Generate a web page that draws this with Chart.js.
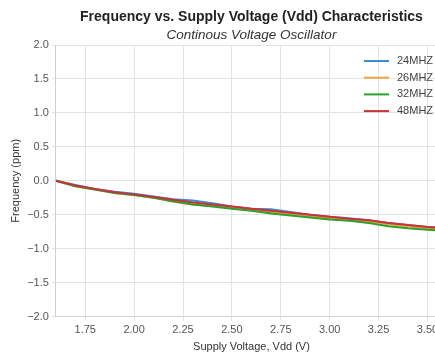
<!DOCTYPE html>
<html lang="en">
<head>
    <meta charset="UTF-8">
    <title>Frequency vs. Supply Voltage</title>
    <script src="https://cdn.jsdelivr.net/npm/chart.js@4/dist/chart.umd.min.js"></script>
    <style>
        html, body { margin: 0; padding: 0; background: #fff; overflow: hidden; }
    </style>
</head>
<body>
<canvas id="freqChart" width="490" height="354"></canvas>

<script>
    // supply voltage (V)
    let voltage = [1.6, 1.7, 1.8, 1.9, 2.0, 2.1, 2.2, 2.3, 2.4, 2.5, 2.6, 2.7, 2.8, 2.9, 3.0, 3.1, 3.2, 3.3, 3.4, 3.5, 3.6];
    // frequency deviation (ppm)
    let f24 = [0, -0.06, -0.12, -0.16, -0.19, -0.23, -0.27, -0.29, -0.33, -0.38, -0.41, -0.42, -0.46, -0.50, -0.53, -0.55, -0.58, -0.62, -0.65, -0.68, -0.70];
    let f26 = [0, -0.08, -0.13, -0.18, -0.21, -0.25, -0.31, -0.35, -0.37, -0.40, -0.43, -0.46, -0.49, -0.52, -0.55, -0.57, -0.60, -0.64, -0.67, -0.70, -0.72];
    let f32 = [0, -0.08, -0.13, -0.18, -0.21, -0.25, -0.30, -0.35, -0.38, -0.41, -0.44, -0.48, -0.51, -0.54, -0.57, -0.59, -0.62, -0.67, -0.70, -0.72, -0.74];
    let f48 = [0, -0.07, -0.12, -0.17, -0.20, -0.24, -0.28, -0.32, -0.35, -0.38, -0.41, -0.44, -0.47, -0.50, -0.53, -0.56, -0.58, -0.62, -0.65, -0.68, -0.70];
    let seriesNames = ["24MHZ", "26MHZ", "32MHZ", "48MHZ"];
    let xTicks = [1.75, 2.0, 2.25, 2.5, 2.75, 3.0, 3.25, 3.5];

    let colors = ["#3b8ed0", "#f2a33a", "#2ca02c", "#c8323a"];
    let font = "'Liberation Sans', Arial, sans-serif";

    function points(values) {
        let pts = [];
        for (let i = 0; i < voltage.length; i++) {
            pts.push({x: voltage[i], y: values[i]});
        }
        return pts;
    }

    // legend drawn inside the plot, upper right
    let innerLegend = {
        id: "innerLegend",
        afterDatasetsDraw(chart) {
            let ctx = chart.ctx;
            let area = chart.chartArea;
            let x0 = area.right - 83;
            let y0 = area.top + 16;
            ctx.save();
            ctx.font = "11px " + font;
            ctx.textBaseline = "middle";
            chart.data.datasets.forEach(function (ds, i) {
                let y = y0 + i * 16.7;
                ctx.strokeStyle = ds.borderColor;
                ctx.lineWidth = 2;
                ctx.beginPath();
                ctx.moveTo(x0, y);
                ctx.lineTo(x0 + 25, y);
                ctx.stroke();
                ctx.fillStyle = "#444";
                ctx.fillText(ds.label, x0 + 33, y);
            });
            ctx.restore();
        }
    };

    let datasets = [f24, f26, f32, f48].map(function (vals, i) {
        return {
            label: seriesNames[i],
            data: points(vals),
            borderColor: colors[i],
            backgroundColor: colors[i],
            borderWidth: 2,
            pointRadius: 0,
            tension: 0,
            order: 3 - i   // later series drawn on top
        };
    });

    new Chart("freqChart", {
        type: "line",
        data: {datasets: datasets},
        plugins: [innerLegend],
        options: {
            responsive: false,
            animation: false,
            layout: {padding: {left: 9, right: 43, top: 4, bottom: 0}},
            plugins: {
                legend: {display: false},
                tooltip: {enabled: false},
                title: {
                    display: true,
                    fullSize: false,
                    text: "Frequency vs. Supply Voltage (Vdd) Characteristics",
                    color: "#222",
                    font: {family: font, size: 14, weight: "bold"},
                    padding: {top: 5, bottom: 1}
                },
                subtitle: {
                    display: true,
                    fullSize: false,
                    text: "Continous Voltage Oscillator",
                    color: "#333",
                    font: {family: font, size: 13.5, style: "italic"},
                    padding: {top: 0, bottom: 2}
                }
            },
            scales: {
                x: {
                    type: "linear",
                    min: 1.6,
                    max: 3.6,
                    afterBuildTicks: function (axis) {
                        axis.ticks = xTicks.map(function (v) { return {value: v}; });
                    },
                    ticks: {
                        color: "#555",
                        font: {family: font, size: 11},
                        padding: 3,
                        callback: function (v) { return Number(v).toFixed(2); }
                    },
                    grid: {color: "#e3e3e3", drawTicks: true, tickLength: 4},
                    border: {color: "#d0d0d0"},
                    title: {
                        display: true,
                        text: "Supply Voltage, Vdd (V)",
                        color: "#333",
                        font: {family: font, size: 11},
                        padding: {top: 1, bottom: 0}
                    }
                },
                y: {
                    min: -2,
                    max: 2,
                    ticks: {
                        stepSize: 0.5,
                        color: "#555",
                        font: {family: font, size: 11},
                        padding: 3,
                        callback: function (v) { return Number(v).toFixed(1).replace("-", "\u2212"); }
                    },
                    grid: {color: "#e3e3e3", tickLength: 4},
                    border: {color: "#d0d0d0"},
                    title: {
                        display: true,
                        text: "Frequency (ppm)",
                        color: "#333",
                        font: {family: font, size: 11},
                        padding: {top: 0, bottom: 2}
                    }
                }
            }
        }
    });
</script>
</body>
</html>
